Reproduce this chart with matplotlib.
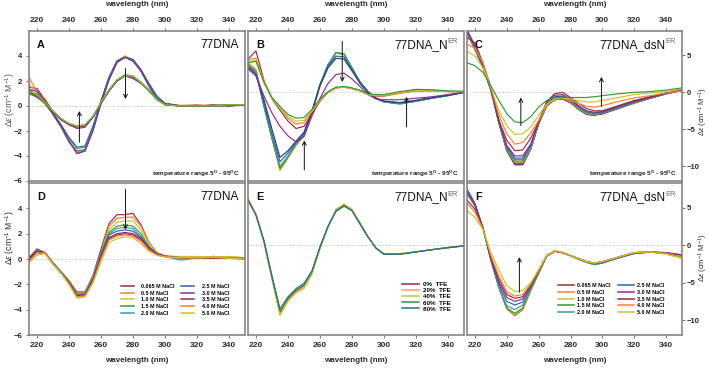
import matplotlib
matplotlib.use('Agg')
import matplotlib.pyplot as plt
from matplotlib.lines import Line2D

plt.rcParams['font.family'] = ['Liberation Sans', 'DejaVu Sans']
plt.rcParams['mathtext.fontset'] = 'custom'
plt.rcParams['mathtext.rm'] = 'Liberation Sans'
plt.rcParams['mathtext.it'] = 'Liberation Sans:italic'
plt.rcParams['mathtext.bf'] = 'Liberation Sans:bold'

# ---------------- data ----------------
WL = [215, 220, 225, 230, 235, 240, 245, 250, 255, 260, 265, 270, 275, 280,
      285, 290, 295, 300, 310, 320, 330, 340, 350]

MAROON = '#9e2a3c'
ORANGE = '#ff7f2a'
YELLOW = '#c9c42a'
GREEN = '#2f9a3a'
TEAL = '#3a9e9e'
BLUE = '#2e62a6'
PURPLE = '#8e2a9e'
NAVY = '#27407e'
LGREEN = '#8dbb2a'

# Panel A: 77DNA, temperature 5-95 C
A_CURVES = [
    [1.5, 1.4, 0.5, -0.6, -1.6, -2.8, -3.8, -3.6, -1.9, 0.3, 2.2, 3.5, 3.9, 3.6, 2.8, 1.6, 0.7, 0.2, 0.0, 0.0, 0.1, 0.0, 0.1],
    [2.3, 1.1, 0.6, -0.5, -1.5, -2.7, -3.7, -3.5, -1.8, 0.3, 2.3, 3.6, 4.0, 3.7, 2.8, 1.7, 0.7, 0.2, 0.05, 0.1, 0.0, 0.1, 0.1],
    [1.8, 0.9, 0.3, -0.6, -1.6, -2.8, -3.6, -3.5, -1.9, 0.2, 2.2, 3.6, 4.0, 3.7, 2.9, 1.7, 0.7, 0.2, 0.0, 0.0, 0.05, 0.1, 0.1],
    [1.2, 0.8, 0.2, -0.7, -1.7, -2.9, -3.6, -3.5, -1.9, 0.2, 2.1, 3.5, 3.9, 3.7, 2.8, 1.6, 0.6, 0.1, 0.0, -0.05, 0.0, 0.05, 0.1],
    [0.9, 1.0, 0.3, -0.6, -1.5, -2.6, -3.4, -3.3, -1.7, 0.4, 2.3, 3.6, 3.9, 3.7, 2.9, 1.7, 0.7, 0.2, 0.0, 0.0, 0.0, 0.05, 0.1],
    [1.0, 0.7, 0.2, -0.6, -1.5, -2.5, -3.3, -3.2, -1.6, 0.4, 2.3, 3.6, 3.9, 3.7, 2.9, 1.8, 0.8, 0.2, 0.0, 0.0, 0.0, 0.05, 0.1],
    [1.3, 1.2, 0.4, -0.6, -1.6, -2.8, -3.8, -3.6, -2.0, 0.2, 2.1, 3.5, 3.9, 3.6, 2.8, 1.6, 0.6, 0.2, 0.0, 0.05, 0.0, 0.1, 0.1],
    [1.1, 0.9, 0.4, -0.4, -1.1, -1.5, -1.7, -1.6, -0.9, 0.2, 1.2, 2.0, 2.4, 2.3, 1.9, 1.2, 0.5, 0.1, 0.0, 0.0, 0.05, 0.0, 0.1],
    [1.4, 0.7, 0.3, -0.5, -1.1, -1.5, -1.8, -1.7, -0.9, 0.2, 1.2, 2.0, 2.4, 2.2, 1.8, 1.2, 0.5, 0.1, 0.0, 0.0, 0.0, 0.05, 0.1],
    [1.0, 0.8, 0.2, -0.4, -1.0, -1.4, -1.6, -1.5, -0.8, 0.3, 1.3, 2.1, 2.5, 2.4, 1.9, 1.3, 0.6, 0.1, 0.0, 0.0, 0.05, 0.1, 0.1],
    [1.2, 0.9, 0.3, -0.4, -1.0, -1.4, -1.6, -1.5, -0.8, 0.3, 1.3, 2.1, 2.4, 2.4, 1.9, 1.2, 0.5, 0.1, 0.0, 0.0, 0.0, 0.1, 0.1],
]
A_COLORS = [MAROON, ORANGE, YELLOW, GREEN, TEAL, BLUE, PURPLE, MAROON, PURPLE, GREEN, LGREEN]
A_ARROWS = [((246.5, -2.9), (246.5, -0.4)), ((275.3, 3.0), (275.3, 0.55))]

# Panel B: 77DNA_N^ER, temperature 5-95 C
B_CURVES = [
    [3.8, 2.9, -1.8, -6.2, -10.4, -8.8, -7.1, -5.8, -2.7, 1.0, 3.7, 5.3, 5.2, 3.3, 1.4, 0.1, -0.8, -1.3, -1.5, -1.2, -0.8, -0.45, 0.0],
    [4.0, 3.1, -1.6, -6.1, -10.6, -8.9, -7.2, -5.9, -2.8, 0.9, 3.6, 5.3, 5.1, 3.2, 1.3, 0.0, -0.9, -1.3, -1.5, -1.2, -0.8, -0.4, 0.0],
    [3.9, 3.0, -1.7, -6.2, -10.5, -8.8, -7.1, -5.8, -2.7, 1.0, 3.7, 5.3, 5.1, 3.3, 1.4, 0.1, -0.8, -1.3, -1.5, -1.2, -0.8, -0.4, 0.0],
    [3.7, 2.8, -2.0, -6.3, -10.3, -8.7, -7.0, -5.8, -2.7, 1.0, 3.7, 5.4, 5.2, 3.3, 1.4, 0.1, -0.8, -1.3, -1.6, -1.2, -0.8, -0.45, 0.0],
    [3.6, 2.7, -1.9, -6.1, -10.0, -8.6, -7.0, -5.7, -2.6, 1.1, 3.8, 5.4, 5.2, 3.3, 1.4, 0.1, -0.8, -1.3, -1.5, -1.2, -0.8, -0.4, 0.0],
    [3.5, 2.5, -1.5, -5.6, -9.4, -8.2, -6.8, -5.6, -2.6, 1.0, 3.5, 4.9, 4.8, 3.1, 1.3, 0.0, -0.8, -1.2, -1.4, -1.1, -0.7, -0.4, 0.0],
    [3.3, 2.3, -1.0, -5.0, -8.8, -7.9, -6.6, -5.4, -2.5, 0.9, 3.3, 4.6, 4.5, 2.9, 1.2, 0.0, -0.8, -1.2, -1.4, -1.1, -0.7, -0.4, 0.0],
    [3.2, 2.2, -0.5, -2.8, -4.6, -5.9, -6.7, -6.0, -3.2, -0.8, 1.2, 2.4, 2.6, 1.8, 0.8, -0.3, -0.9, -1.0, -1.0, -0.8, -0.6, -0.3, 0.0],
    [4.5, 5.6, 1.6, -0.9, -2.4, -3.9, -4.9, -4.6, -2.9, -1.2, 0.0, 0.6, 0.7, 0.5, 0.2, -0.3, -0.5, -0.5, -0.1, 0.2, 0.2, 0.1, 0.1],
    [4.4, 4.6, 1.5, -0.8, -2.2, -3.5, -4.3, -4.1, -2.6, -1.1, 0.0, 0.6, 0.7, 0.5, 0.2, -0.3, -0.5, -0.5, -0.1, 0.2, 0.2, 0.1, 0.1],
    [4.2, 4.3, 1.4, -0.8, -2.1, -3.3, -3.9, -3.8, -2.5, -1.0, 0.1, 0.6, 0.7, 0.5, 0.2, -0.3, -0.4, -0.4, 0.0, 0.3, 0.2, 0.1, 0.1],
    [4.0, 4.2, 1.3, -0.7, -1.9, -3.0, -3.5, -3.4, -2.3, -0.9, 0.1, 0.7, 0.8, 0.6, 0.3, -0.2, -0.3, -0.3, 0.1, 0.4, 0.35, 0.2, 0.15],
]
B_COLORS = [MAROON, ORANGE, YELLOW, GREEN, TEAL, BLUE, NAVY, PURPLE, MAROON, ORANGE, YELLOW, GREEN]
B_ARROWS = [((273.9, 6.9), (273.9, 1.4)), ((250.2, -10.5), (250.2, -6.5)),
            ((314.1, -4.7), (314.1, -0.6))]

# Panel C: 77DNA_dsN^ER, temperature 5-95 C
C_CURVES = [
    [8.0, 5.8, 3.4, 0.3, -4.2, -7.9, -9.8, -9.8, -7.7, -4.3, -1.9, -1.0, -0.9, -1.4, -2.3, -3.0, -3.1, -2.9, -2.2, -1.5, -0.8, -0.2, 0.25],
    [8.1, 5.8, 3.4, 0.3, -4.1, -7.9, -9.8, -9.8, -7.7, -4.2, -1.8, -1.0, -0.9, -1.4, -2.3, -3.0, -3.1, -2.9, -2.2, -1.4, -0.8, -0.2, 0.25],
    [8.1, 5.9, 3.4, 0.35, -4.1, -7.8, -9.7, -9.7, -7.6, -4.2, -1.8, -1.0, -0.9, -1.4, -2.2, -2.9, -3.0, -2.9, -2.1, -1.4, -0.8, -0.2, 0.25],
    [8.2, 5.9, 3.4, 0.35, -4.1, -7.8, -9.6, -9.6, -7.6, -4.2, -1.8, -0.9, -0.8, -1.3, -2.2, -2.9, -3.0, -2.9, -2.1, -1.4, -0.8, -0.15, 0.3],
    [8.2, 6.0, 3.5, 0.4, -4.0, -7.7, -9.5, -9.5, -7.5, -4.1, -1.7, -0.9, -0.8, -1.3, -2.2, -2.9, -3.0, -2.8, -2.1, -1.4, -0.75, -0.15, 0.3],
    [8.2, 6.0, 3.5, 0.4, -4.0, -7.6, -9.4, -9.4, -7.5, -4.1, -1.7, -0.8, -0.7, -1.2, -2.1, -2.8, -3.0, -2.8, -2.1, -1.4, -0.7, -0.1, 0.35],
    [8.3, 6.0, 3.5, 0.4, -4.0, -7.6, -9.3, -9.3, -7.4, -4.1, -1.7, -0.8, -0.7, -1.2, -2.1, -2.8, -3.0, -2.8, -2.1, -1.4, -0.7, -0.15, 0.3],
    [8.3, 6.1, 3.6, 0.4, -3.9, -7.5, -9.1, -9.1, -7.3, -4.0, -1.6, -0.7, -0.6, -1.1, -2.0, -2.7, -2.9, -2.7, -2.0, -1.3, -0.7, -0.1, 0.3],
    [8.4, 6.2, 3.6, 0.45, -3.9, -7.4, -8.9, -8.9, -7.2, -4.0, -1.5, -0.6, -0.5, -1.0, -1.9, -2.6, -2.8, -2.7, -2.0, -1.3, -0.7, -0.15, 0.3],
    [8.5, 6.3, 3.7, 0.5, -3.8, -7.2, -8.6, -8.6, -7.0, -3.9, -1.3, -0.4, -0.3, -0.9, -1.8, -2.5, -2.7, -2.6, -1.9, -1.2, -0.6, -0.1, 0.3],
    [7.4, 6.7, 4.0, 0.6, -3.8, -6.5, -7.9, -7.8, -6.2, -4.0, -1.3, -0.2, 0.0, -0.7, -1.5, -2.2, -2.5, -2.5, -1.8, -1.1, -0.6, -0.1, 0.3],
    [6.5, 6.0, 4.0, 0.7, -3.1, -5.6, -7.0, -6.8, -5.5, -3.8, -1.8, -0.9, -0.8, -1.1, -1.5, -1.9, -2.0, -1.8, -1.25, -0.75, -0.45, -0.1, 0.2],
    [5.6, 4.9, 3.3, 0.7, -2.5, -4.5, -5.7, -5.6, -4.7, -3.1, -1.6, -0.9, -0.8, -0.9, -1.1, -1.3, -1.3, -1.1, -0.7, -0.3, -0.1, 0.1, 0.45],
    [4.0, 3.6, 2.7, 0.9, -1.1, -2.9, -4.0, -4.1, -3.3, -2.0, -1.1, -0.7, -0.7, -0.7, -0.7, -0.7, -0.6, -0.45, -0.2, 0.0, 0.1, 0.3, 0.6],
]
C_COLORS = [TEAL, BLUE, PURPLE, MAROON, ORANGE, YELLOW, GREEN, TEAL, BLUE, PURPLE, MAROON, ORANGE, YELLOW, GREEN]
C_ARROWS = [((248.8, -4.5), (248.8, -0.7)), ((299.4, -1.9), (299.4, 2.1))]

# Panel D: 77DNA, NaCl series
NACL_LABELS = ['0.065 M NaCl', '0.5 M NaCl', '1.0 M NaCl', '1.5 M NaCl', '2.0 M NaCl',
               '2.5 M NaCl', '3.0 M NaCl', '3.5 M NaCl', '4.0 M NaCl', '5.0 M NaCl']
NACL_COLORS = [MAROON, ORANGE, YELLOW, GREEN, TEAL, BLUE, PURPLE, MAROON, ORANGE, YELLOW]
D_CURVES = [
    [0.1, 0.8, 0.5, -0.3, -1.0, -1.7, -2.6, -2.6, -1.3, 0.8, 2.8, 3.5, 3.5, 3.6, 2.7, 1.3, 0.5, 0.25, 0.15, 0.1, 0.2, 0.15, 0.1],
    [0.0, 0.7, 0.5, -0.3, -1.0, -1.7, -2.7, -2.6, -1.4, 0.6, 2.6, 3.2, 3.3, 3.3, 2.6, 1.3, 0.5, 0.2, 0.15, 0.1, 0.2, 0.1, 0.1],
    [0.2, 0.6, 0.5, -0.4, -1.1, -1.8, -2.8, -2.7, -1.5, 0.5, 2.3, 2.9, 3.0, 3.0, 2.3, 1.2, 0.5, 0.2, 0.2, 0.2, 0.15, 0.2, 0.1],
    [0.1, 0.7, 0.5, -0.3, -1.0, -1.8, -2.8, -2.7, -1.5, 0.5, 2.1, 2.6, 2.7, 2.6, 2.0, 1.0, 0.4, 0.2, 0.1, 0.1, 0.1, 0.1, 0.1],
    [0.0, 0.7, 0.5, -0.3, -1.0, -1.8, -2.8, -2.7, -1.5, 0.4, 2.0, 2.4, 2.5, 2.4, 1.8, 1.0, 0.4, 0.2, -0.1, 0.1, 0.1, 0.1, 0.0],
    [-0.1, 0.6, 0.5, -0.4, -1.1, -1.9, -2.9, -2.8, -1.6, 0.3, 1.9, 2.2, 2.3, 2.2, 1.7, 0.9, 0.4, 0.2, 0.1, 0.1, 0.1, 0.05, 0.0],
    [0.1, 0.6, 0.5, -0.4, -1.1, -1.9, -2.9, -2.8, -1.7, 0.2, 1.7, 2.0, 2.1, 2.0, 1.6, 0.9, 0.4, 0.2, 0.1, 0.1, 0.05, 0.1, 0.05],
    [0.0, 0.6, 0.5, -0.4, -1.1, -1.9, -2.9, -2.9, -1.7, 0.1, 1.6, 1.9, 2.0, 1.9, 1.5, 0.8, 0.3, 0.2, 0.05, 0.1, 0.1, 0.05, 0.05],
    [-0.2, 0.4, 0.5, -0.4, -1.1, -2.0, -3.0, -2.9, -1.8, 0.0, 1.5, 1.8, 1.9, 1.8, 1.4, 0.7, 0.3, 0.2, 0.1, 0.1, 0.1, 0.1, 0.05],
    [-0.3, 0.3, 0.4, -0.4, -1.1, -2.0, -3.1, -3.0, -1.9, -0.2, 1.3, 1.6, 1.75, 1.7, 1.2, 0.6, 0.3, 0.15, 0.1, 0.1, 0.15, 0.05, 0.05],
]
D_ARROWS = [((275.3, 5.5), (275.3, 2.3))]

# Panel E: 77DNA_N^ER, TFE series
TFE_LABELS = ['0%  TFE', '20%  TFE', '40%  TFE', '60%  TFE', '80%  TFE']
TFE_COLORS = [MAROON, '#f59a78', YELLOW, GREEN, '#2a6f93']
E_CURVES = [
    [6.1, 4.1, 0.5, -4.4, -9.0, -7.2, -6.1, -5.4, -3.6, -0.3, 2.5, 4.6, 5.3, 4.7, 2.9, 1.1, -0.4, -1.2, -1.2, -0.9, -0.6, -0.35, -0.1],
    [6.2, 4.2, 0.4, -4.5, -9.2, -7.4, -6.3, -5.6, -3.8, -0.4, 2.4, 4.7, 5.4, 4.7, 2.9, 1.1, -0.4, -1.2, -1.2, -0.9, -0.6, -0.3, -0.1],
    [6.3, 4.1, 0.3, -4.6, -9.4, -7.5, -6.4, -5.8, -3.9, -0.5, 2.4, 4.8, 5.5, 4.8, 3.0, 1.1, -0.4, -1.2, -1.1, -0.9, -0.6, -0.3, -0.1],
    [6.0, 4.0, 0.5, -4.3, -8.8, -7.1, -6.0, -5.3, -3.5, -0.3, 2.5, 4.6, 5.3, 4.6, 2.9, 1.1, -0.4, -1.2, -1.2, -0.9, -0.6, -0.3, -0.1],
    [6.0, 4.0, 0.6, -4.1, -8.5, -6.9, -5.8, -5.1, -3.4, -0.2, 2.5, 4.5, 5.2, 4.6, 2.8, 1.1, -0.4, -1.2, -1.2, -0.9, -0.6, -0.35, -0.1],
]

# Panel F: 77DNA_dsN^ER, NaCl series
F_CURVES = [
    [7.0, 5.3, 2.3, -1.9, -5.6, -8.5, -9.4, -8.6, -6.1, -3.8, -1.5, -0.8, -1.0, -1.4, -1.8, -2.2, -2.4, -2.3, -1.7, -1.1, -0.95, -1.1, -1.4],
    [6.8, 5.2, 2.3, -1.9, -5.6, -8.4, -9.3, -8.5, -6.0, -3.7, -1.5, -0.8, -1.0, -1.4, -1.8, -2.2, -2.4, -2.3, -1.7, -1.1, -0.9, -1.1, -1.5],
    [6.9, 5.3, 2.3, -1.9, -5.6, -8.4, -9.3, -8.5, -6.0, -3.7, -1.5, -0.8, -1.0, -1.4, -1.8, -2.2, -2.4, -2.3, -1.7, -1.1, -0.9, -1.2, -1.6],
    [7.3, 5.5, 2.3, -2.0, -5.7, -8.4, -9.1, -8.4, -5.9, -3.6, -1.5, -0.8, -1.0, -1.4, -1.9, -2.3, -2.6, -2.4, -1.7, -1.1, -0.9, -1.1, -1.5],
    [7.5, 5.6, 2.3, -2.0, -5.6, -8.1, -8.6, -8.0, -5.8, -3.6, -1.5, -0.8, -1.0, -1.4, -1.9, -2.3, -2.6, -2.4, -1.7, -1.1, -0.9, -1.1, -1.4],
    [7.4, 5.5, 2.3, -1.9, -5.2, -7.5, -8.0, -7.6, -5.6, -3.5, -1.4, -0.8, -1.0, -1.4, -1.8, -2.2, -2.5, -2.3, -1.7, -1.1, -0.9, -1.0, -1.3],
    [7.0, 5.3, 2.3, -1.8, -4.9, -7.0, -7.5, -7.2, -5.4, -3.4, -1.4, -0.8, -1.0, -1.4, -1.8, -2.2, -2.4, -2.2, -1.6, -1.0, -0.9, -1.0, -1.3],
    [6.0, 4.8, 2.3, -1.6, -4.5, -6.6, -7.1, -6.9, -5.3, -3.4, -1.4, -0.8, -1.0, -1.4, -1.8, -2.2, -2.4, -2.2, -1.6, -1.0, -0.9, -1.1, -1.4],
    [5.6, 4.4, 2.2, -1.4, -4.1, -6.2, -6.8, -6.6, -5.2, -3.3, -1.4, -0.8, -1.0, -1.4, -1.8, -2.2, -2.4, -2.2, -1.6, -1.0, -0.9, -1.1, -1.5],
    [4.6, 3.7, 2.1, -1.0, -3.3, -5.4, -6.2, -6.1, -5.0, -3.3, -1.4, -0.7, -0.9, -1.4, -1.8, -2.2, -2.4, -2.2, -1.6, -1.0, -0.9, -1.2, -1.8],
]
F_ARROWS = [((247.9, -6.3), (247.9, -1.6))]

X_TICKS = [220, 240, 260, 280, 300, 320, 340]
Y_TICKS_LEFT = [-6, -4, -2, 0, 2, 4]
Y_TICKS_RIGHT = [-10, -5, 0, 5]

# ---------------- layout ----------------
W, H = 709, 368
COLS = [(29, 245), (248, 464), (467, 682)]
ROWS = [(31, 181), (183, 335)]
SPINE = '#7c7c7c'
TXT = '#2b2b2b'


def rect(c, r):
    x0, x1 = COLS[c]
    y0, y1 = ROWS[r]
    return [x0 / W, 1 - y1 / H, (x1 - x0) / W, (y1 - y0) / H]


fig = plt.figure(figsize=(W / 100, H / 100), dpi=100)
fig.patch.set_facecolor('white')

YLAB = r'$\Delta\varepsilon$ (cm$^{-1}$ M$^{-1}$)'


def setup(ax, row, col, ylim):
    ax.set_xlim(215, 350)
    ax.set_ylim(*ylim)
    for s in ax.spines.values():
        s.set_color(SPINE)
        s.set_linewidth(1.1)
    ax.axhline(0, color='#bdbdbd', lw=0.7, ls=(0, (1, 1.6)), zorder=0)
    ax.set_xticks(X_TICKS)
    ax.tick_params(axis='both', colors=SPINE, labelcolor=TXT, labelsize=6,
                   length=2.5, width=0.8, pad=2.3, direction='out')
    if row == 0:
        ax.tick_params(axis='x', top=True, bottom=False, labeltop=True, labelbottom=False)
    else:
        ax.tick_params(axis='x', top=False, bottom=True, labeltop=False, labelbottom=True)
    if col == 0:
        ax.set_yticks(Y_TICKS_LEFT)
        ax.tick_params(axis='y', left=True, right=False, labelleft=True, labelright=False,
                       labelsize=5.6)
    elif col == 1:
        ax.set_yticks([])
    else:
        ax.set_yticks(Y_TICKS_RIGHT)
        ax.tick_params(axis='y', left=False, right=True, labelleft=False, labelright=True,
                       labelsize=5.5, pad=1.4, length=2.2)
    for lab in ax.get_xticklabels() + ax.get_yticklabels():
        lab.set_fontweight('bold')


def draw_curves(ax, curves, colors):
    for ys, c in zip(curves, colors):
        ax.plot(WL, ys, color=c, lw=0.85, solid_joinstyle='round')


def draw_arrows(ax, arrows):
    for (x0, y0), (x1, y1) in arrows:
        ax.annotate('', xy=(x1, y1), xytext=(x0, y0),
                    arrowprops=dict(arrowstyle='->', color='#111111', lw=0.7,
                                    shrinkA=0, shrinkB=0, mutation_scale=7))


def labels(ax, letter, title, sup=None, temp=False):
    ax.text(0.037, 0.905, letter, transform=ax.transAxes, fontsize=7.8,
            fontweight='bold', color='#111111', ha='left', va='center')
    xr = 0.972 if sup is None else 0.925
    t = ax.text(xr, 0.905, title, transform=ax.transAxes, fontsize=8.6,
                color='#111111', ha='right', va='center')
    if sup is not None:
        ax.annotate(sup, xy=(1.0, 0.78), xycoords=t, fontsize=5.4,
                    color='#6a6a6a', ha='left', va='center')
    if temp:
        ax.text(0.975, 0.045, r'temperature range 5$^{\mathregular{O}}$ - 95$^{\mathregular{O}}$C',
                transform=ax.transAxes, fontsize=4.6, fontweight='bold',
                color='#222222', ha='right', va='center')


YL_AD = (-6, 6)
YL_R = (-12, 8.3)

axA = fig.add_axes(rect(0, 0))
setup(axA, 0, 0, YL_AD)
draw_curves(axA, A_CURVES, A_COLORS)
draw_arrows(axA, A_ARROWS)
labels(axA, 'A', '77DNA', temp=True)

axB = fig.add_axes(rect(1, 0))
setup(axB, 0, 1, YL_R)
draw_curves(axB, B_CURVES, B_COLORS)
draw_arrows(axB, B_ARROWS)
labels(axB, 'B', '77DNA_N', 'ER', temp=True)

axC = fig.add_axes(rect(2, 0))
setup(axC, 0, 2, YL_R)
draw_curves(axC, C_CURVES, C_COLORS)
draw_arrows(axC, C_ARROWS)
labels(axC, 'C', '77DNA_dsN', 'ER', temp=True)

axD = fig.add_axes(rect(0, 1))
setup(axD, 1, 0, YL_AD)
draw_curves(axD, D_CURVES, NACL_COLORS)
draw_arrows(axD, D_ARROWS)
labels(axD, 'D', '77DNA')

axE = fig.add_axes(rect(1, 1))
setup(axE, 1, 1, YL_R)
draw_curves(axE, E_CURVES, TFE_COLORS)
labels(axE, 'E', '77DNA_N', 'ER')

axF = fig.add_axes(rect(2, 1))
setup(axF, 1, 2, YL_R)
draw_curves(axF, F_CURVES, NACL_COLORS)
draw_arrows(axF, F_ARROWS)
labels(axF, 'F', '77DNA_dsN', 'ER')

# legends
def nacl_handles():
    return [Line2D([0], [0], color=c, lw=1.1) for c in NACL_COLORS]

axD.legend(nacl_handles(), NACL_LABELS, ncol=2, loc='upper left',
           bbox_to_anchor=(0.425, 0.335), frameon=False,
           prop=dict(size=3.9, weight='bold'), handlelength=2.4,
           handletextpad=1.4, columnspacing=1.2, labelspacing=0.3,
           borderpad=0, borderaxespad=0)
axE.legend([Line2D([0], [0], color=c, lw=1.1) for c in TFE_COLORS], TFE_LABELS,
           loc='upper left', bbox_to_anchor=(0.715, 0.35), frameon=False,
           prop=dict(size=4.5, weight='bold'), handlelength=2.7,
           handletextpad=0.6, labelspacing=0.12, borderpad=0, borderaxespad=0)
axF.legend(nacl_handles(), NACL_LABELS, ncol=2, loc='upper left',
           bbox_to_anchor=(0.425, 0.34), frameon=False,
           prop=dict(size=3.9, weight='bold'), handlelength=2.9,
           handletextpad=0.6, columnspacing=1.4, labelspacing=0.3,
           borderpad=0, borderaxespad=0)

# axis titles
for (x0, x1) in COLS:
    cx = (x0 + x1) / 2 / W
    fig.text(cx, 1 - 5 / H, 'wavelength (nm)', ha='center', va='center',
             fontsize=5.8, fontweight='bold', color=TXT)
    fig.text(cx, 1 - 360 / H, 'wavelength (nm)', ha='center', va='center',
             fontsize=5.8, fontweight='bold', color=TXT)

fig.text(10 / W, 1 - 100 / H, YLAB, rotation=90, ha='center', va='center',
         fontsize=6.2, color='#555555')
fig.text(10 / W, 1 - 238 / H, YLAB, rotation=90, ha='center', va='center',
         fontsize=6.2, color=TXT)
fig.text(703 / W, 1 - 112 / H, YLAB, rotation=90, ha='center', va='center',
         fontsize=5.5, color=TXT)
fig.text(703 / W, 1 - 258 / H, YLAB, rotation=90, ha='center', va='center',
         fontsize=5.5, color=TXT)

fig.savefig('out.png', dpi=100, facecolor='white')
